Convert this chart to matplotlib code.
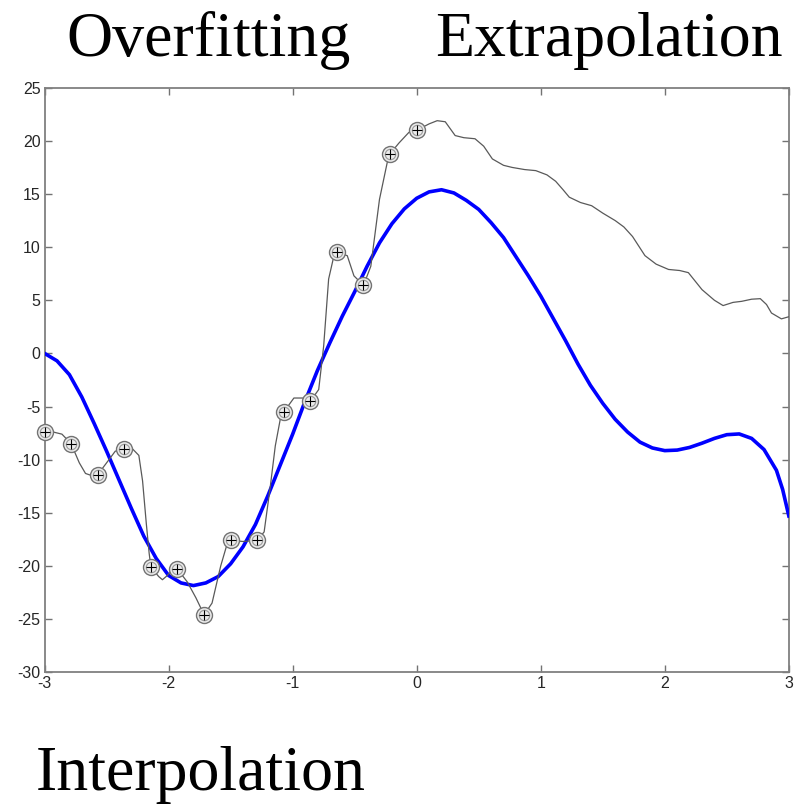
import matplotlib
matplotlib.use("Agg")
import matplotlib.pyplot as plt
import numpy as np

# Training samples (circles)
sample_x = [-3.0, -2.786, -2.571, -2.357, -2.143, -1.929, -1.714, -1.5,
            -1.286, -1.071, -0.857, -0.643, -0.429, -0.214, 0.0]
sample_y = [-7.4, -8.5, -11.4, -9.0, -20.1, -20.3, -24.6, -17.6,
            -17.6, -5.5, -4.5, 9.5, 6.4, 18.8, 21.0]

# True function (blue)
true_x = [-3.0, -2.9, -2.8, -2.7, -2.6, -2.5, -2.4, -2.3, -2.2, -2.1, -2.0,
          -1.9, -1.8, -1.7, -1.6, -1.5, -1.4, -1.3, -1.2, -1.1, -1.0,
          -0.9, -0.8, -0.7, -0.6, -0.5, -0.4, -0.3, -0.2, -0.1, 0.0,
          0.1, 0.2, 0.3, 0.4, 0.5, 0.6, 0.7, 0.8, 0.9, 1.0,
          1.1, 1.2, 1.3, 1.4, 1.5, 1.6, 1.7, 1.8, 1.9, 2.0,
          2.1, 2.2, 2.3, 2.4, 2.5, 2.6, 2.7, 2.8, 2.9, 2.95, 3.0]
true_y = [0.0, -0.7, -2.0, -4.1, -6.6, -9.2, -11.9, -14.6, -17.2, -19.3, -20.9,
          -21.6, -21.85, -21.6, -21.0, -19.8, -18.2, -16.1, -13.4, -10.5, -7.6,
          -4.5, -1.6, 1.0, 3.5, 5.8, 8.2, 10.4, 12.2, 13.6, 14.6,
          15.2, 15.4, 15.1, 14.4, 13.55, 12.3, 10.9, 9.1, 7.3, 5.4,
          3.3, 1.2, -1.0, -3.0, -4.7, -6.2, -7.4, -8.35, -8.9, -9.15,
          -9.1, -8.85, -8.45, -8.0, -7.65, -7.58, -8.0, -9.05, -11.0, -12.8, -15.3]

# Overfitted model (gray)
fit_x = [-3.0, -2.93, -2.86, -2.786, -2.72, -2.67, -2.62, -2.571, -2.50, -2.43,
         -2.357, -2.29, -2.24, -2.21, -2.18, -2.157, -2.143, -2.08, -2.05, -2.02,
         -1.98, -1.929, -1.85, -1.78, -1.714, -1.65, -1.58, -1.53, -1.5, -1.40,
         -1.286, -1.23, -1.18, -1.14, -1.10, -1.071, -0.99, -0.92, -0.857, -0.79,
         -0.75, -0.71, -0.667, -0.643, -0.56, -0.506, -0.429, -0.37, -0.30, -0.237,
         -0.214, -0.143, -0.063, 0.0, 0.10, 0.165, 0.23, 0.31, 0.38, 0.47,
         0.54, 0.61, 0.70, 0.77, 0.87, 0.96, 1.05, 1.12, 1.18, 1.23,
         1.32, 1.41, 1.50, 1.60, 1.67, 1.74, 1.84, 1.93, 2.03, 2.12,
         2.19, 2.30, 2.40, 2.47, 2.55, 2.62, 2.70, 2.77, 2.82, 2.86,
         2.94, 3.0]
fit_y = [-7.4, -7.4, -7.6, -8.5, -10.3, -11.3, -11.5, -11.4, -10.3, -9.2,
         -9.0, -9.0, -9.6, -12.0, -16.0, -18.8, -20.1, -21.0, -21.3, -21.0,
         -20.5, -20.3, -21.5, -23.0, -24.6, -23.5, -20.0, -18.0, -17.6, -17.7,
         -17.6, -16.8, -12.5, -8.7, -6.2, -5.5, -4.2, -4.2, -4.5, -3.4,
         0.7, 7.0, 9.2, 9.5, 9.2, 7.3, 6.4, 8.2, 14.5, 18.0,
         18.8, 19.8, 20.8, 21.0, 21.6, 21.9, 21.8, 20.5, 20.3, 20.2,
         19.5, 18.3, 17.7, 17.5, 17.3, 17.2, 16.8, 16.2, 15.4, 14.7,
         14.2, 13.9, 13.2, 12.5, 11.9, 11.0, 9.2, 8.4, 7.9, 7.8,
         7.6, 6.0, 5.0, 4.5, 4.8, 4.9, 5.1, 5.15, 4.6, 3.8,
         3.25, 3.45]

x_ticks = [-3, -2, -1, 0, 1, 2, 3]
y_ticks = [-30, -25, -20, -15, -10, -5, 0, 5, 10, 15, 20, 25]

fig = plt.figure(figsize=(7.96, 8.05), dpi=100)
ax = fig.add_axes([0.056, 0.165, 0.935, 0.726])

ax.plot(true_x, true_y, color=(0, 0, 1), lw=2.6, zorder=3,
        solid_joinstyle='round')
ax.plot(fit_x, fit_y, color=(0.35, 0.35, 0.35), lw=0.9, zorder=4,
        solid_joinstyle='round')
ax.plot(sample_x, sample_y, ls='none', marker='o', ms=11.5, mfc=(0.93, 0.93, 0.93),
        mec=(0.45, 0.45, 0.45), mew=1.0, zorder=5, clip_on=False)
ax.plot(sample_x, sample_y, ls='none', marker='o', ms=7.5, mfc='none',
        mec=(0.6, 0.6, 0.6), mew=0.8, zorder=5, clip_on=False)
ax.plot(sample_x, sample_y, ls='none', marker='+', ms=7, mec='black',
        mew=0.8, zorder=6, clip_on=False)

ax.set_xlim(-3, 3)
ax.set_ylim(-30, 25)
ax.set_xticks(x_ticks)
ax.set_yticks(y_ticks)
ax.set_xticklabels([str(v) for v in x_ticks])
ax.set_yticklabels([str(v) for v in y_ticks])
for s in ax.spines.values():
    s.set_color((0.5, 0.5, 0.5))
    s.set_linewidth(1.3)
ax.tick_params(direction='in', length=5, width=1.0, color=(0.45, 0.45, 0.45),
               top=True, right=True, labelsize=11.5, labelcolor=(0.15, 0.15, 0.15),
               pad=3)
for lab in ax.get_xticklabels() + ax.get_yticklabels():
    lab.set_family('Liberation Sans')

title_kw = dict(family='Liberation Serif', fontsize=46, color='black',
                va='baseline', ha='left')
fig.text(0.084, 0.930, 'Overfitting', **title_kw)
fig.text(0.547, 0.930, 'Extrapolation', **title_kw)
fig.text(0.045, 0.019, 'Interpolation', **title_kw)

fig.savefig('out.png', dpi=100)
